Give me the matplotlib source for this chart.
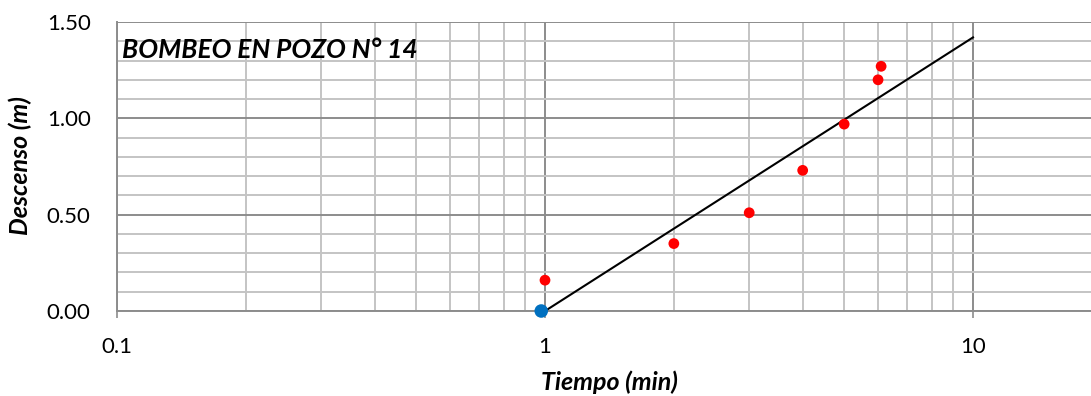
import numpy as np
import matplotlib
matplotlib.use('Agg')
import matplotlib.pyplot as plt
from matplotlib.ticker import FixedLocator, NullFormatter

# datos
tiempo = [1, 2, 3, 4, 5, 6, 6.1]
descenso = [0.16, 0.35, 0.51, 0.73, 0.97, 1.20, 1.27]
t_inicio = [0.98]
d_inicio = [0.0]
recta_t = [1, 10]
recta_d = [0.0, 1.42]
titulo = 'BOMBEO EN POZO N° 14'

plt.rcParams['font.family'] = ['Lato', 'DejaVu Sans']

fig = plt.figure(figsize=(10.91, 3.96), dpi=100)
ax = fig.add_axes([117/1091, 85/396, 1284/1091, 289/396])

ax.set_xscale('log')
ax.set_xlim(0.1, 100)
ax.set_ylim(0, 1.5)

# rejilla
ax.xaxis.set_major_locator(FixedLocator([0.1, 1, 10, 100]))
minx = [m * d for d in [0.1, 1, 10] for m in range(2, 10)]
ax.xaxis.set_minor_locator(FixedLocator(minx))
ax.xaxis.set_minor_formatter(NullFormatter())
ax.set_xticks([0.1, 1, 10])
ax.set_xticklabels(['0.1', '1', '10'])
ax.set_yticks([0, 0.5, 1.0, 1.5])
ax.set_yticklabels(['0.00', '0.50', '1.00', '1.50'])
ax.set_yticks(np.arange(0, 1.51, 0.1), minor=True)
ax.grid(True, which='major', color='#8c8c8c', lw=1.4)
ax.grid(True, which='minor', color='#c4c4c4', lw=1.4)
ax.set_axisbelow(True)

ax.tick_params(axis='x', which='major', length=5, width=1.2, color='#8c8c8c', pad=14, labelsize=16)
ax.tick_params(axis='x', which='minor', length=0)
ax.tick_params(axis='y', which='both', length=0, pad=19, labelsize=16)

for s in ['top', 'right']:
    ax.spines[s].set_visible(False)
ax.spines['left'].set_color('#8c8c8c')
ax.spines['bottom'].set_color('#8c8c8c')
ax.spines['left'].set_linewidth(1.4)
ax.spines['bottom'].set_linewidth(1.4)

ax.plot(recta_t, recta_d, color='black', lw=1.5, zorder=3)
ax.scatter(tiempo, descenso, s=60, color='#ff0000', zorder=4, edgecolors='none')
ax.scatter(t_inicio, d_inicio, s=95, color='#0070c0', zorder=4, edgecolors='none', clip_on=False)

fig.text(122/1091, 1 - 50/396, titulo, fontsize=19, fontweight='bold', style='italic', va='center', ha='left')
fig.text(20/1091, 1 - 166/396, 'Descenso (m)', fontsize=18, fontweight='bold', style='italic',
         rotation=90, va='center', ha='center')
fig.text(609/1091, 2/396, 'Tiempo (min)', fontsize=18, fontweight='bold', style='italic',
         va='bottom', ha='center')

plt.savefig('out.png', dpi=100)
